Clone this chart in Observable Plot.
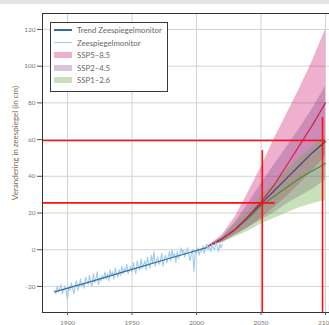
<!DOCTYPE html>
<html><head><meta charset="utf-8">
<script src="https://cdn.jsdelivr.net/npm/d3@7"></script>
<script src="https://cdn.jsdelivr.net/npm/@observablehq/plot@0.6"></script>
<style>
body{margin:0;background:#fff;font-family:"Noto Sans",sans-serif;}
#wrap{position:relative;width:329px;height:325px;overflow:hidden;background:#fff;}
#strip{position:absolute;left:0;top:0;width:329px;height:4px;background:#e4e4e4;}
#legend{position:absolute;left:50px;top:22px;width:118px;height:70px;border:1px solid #3a3a3a;background:#fff;box-sizing:border-box;padding-top:1px;}
.row{display:flex;align-items:center;height:12.5px;font-family:Lato,sans-serif;font-size:7.8px;color:#666;white-space:nowrap;}
.sw{width:18px;margin-left:3px;margin-right:5px;box-sizing:border-box;flex:none;}
</style></head>
<body>
<div id="wrap"><div id="strip"></div></div>
<script>
// ---- data ----
const xTicks = [1900, 1950, 2000, 2050, 2100];
const yTicks = [-20, 0, 20, 40, 60, 80, 100, 120];
const xMin = 1880.6, xMax = 2103.1;
const yMin = -34.2, yMax = 128.7;

const monitorStart = 1890;
const monitorValues = [
  -22, -24, -20, -23, -21, -19, -24, -22, -20, -23,
  -27, -20, -22, -18, -21, -24, -19, -17, -22, -20,
  -16, -20, -18, -21, -15, -17, -19, -14, -18, -20,
  -13, -18, -16, -12, -19, -15, -17, -14, -16, -12,
  -16, -13, -17, -11, -14, -12, -16, -10, -13, -15,
  -11, -14, -9, -13, -10, -12, -8, -13, -11, -9,
  -12, -7, -10, -13, -6, -9, -11, -5, -10, -8,
  -6, -11, -4, -8, -10, -3, -7, -1, -9, -6,
  -4, -8, -6, -2, -9, -5, -3, -7, -4, -1,
  -6, 0, -4, -2, -7, -1, -5, -3, 1, -2,
  0, -4, -1, 1, -3, -6, -2, 0, -12, -1,
  -2, 1, -3, 0, -1, 2, -2, 1, 3, 0,
  2, -1, 3, 1, 0, 4, 2, -1, 3, 1,
  3
];
const trendYears = [1890, 1920, 1950, 1980, 2007];
const trendValues = [-23, -17, -10.7, -4.5, 1];

const projYears   = [2007, 2020, 2030, 2040, 2050, 2060, 2070, 2080, 2090, 2100];
const ssp585Med   = [1, 6, 11, 18, 26, 35, 46, 57, 68, 80];
const ssp585Low   = [1, 4, 8, 12, 17, 23, 29, 36, 43, 51];
const ssp585High  = [1, 8, 18, 31, 45, 60, 74, 88, 103, 120];
const ssp245Med   = [1, 6, 11, 18, 25, 32, 39, 46, 53, 59];
const ssp245Low   = [1, 4, 8, 12, 16, 20, 25, 29, 33, 38];
const ssp245High  = [1, 7, 15, 25, 36, 46, 56, 66, 77, 89];
const ssp126Med   = [1, 6, 11, 17, 24, 29, 34, 39, 43, 47];
const ssp126Low   = [1, 4, 7, 10, 14, 17, 20, 23, 25, 27];
const ssp126High  = [1, 7, 14, 21, 29, 36, 43, 50, 56, 62];

const redVertYears = [2051, 2097.7];
const redVertTops  = [54, 72];
const redHorizValues = [59.5, 25.5];
const redHorizEnds   = [2100, 2061];

const legendLabels = ["Trend Zeespiegelmonitor", "Zeespiegelmonitor", "SSP5\u20138.5", "SSP2\u20134.5", "SSP1\u20132.6"];
const yLabel = "Verandering in zeespiegel (in cm)";

// ---- tables ----
const monitor = monitorValues.map((v, i) => ({year: monitorStart + i, v}));
const trend = trendYears.map((y, i) => ({year: y, v: trendValues[i]}));
const mk = (med, lo, hi) => projYears.map((y, i) => ({year: y, med: med[i], lo: lo[i], hi: hi[i]}));
const p585 = mk(ssp585Med, ssp585Low, ssp585High);
const p245 = mk(ssp245Med, ssp245Low, ssp245High);
const p126 = mk(ssp126Med, ssp126Low, ssp126High);
const vlines = redVertYears.map((x, i) => ({x, y1: yMin, y2: redVertTops[i]}));
const hlines = redHorizValues.map((y, i) => ({y, x1: xMin, x2: redHorizEnds[i]}));

const C = {
  pinkFill: "#d2307f", purpleFill: "#7c3a86", greenFill: "#66a845",
  pinkLine: "#d81e4e", purpleLine: "#55348a", greenLine: "#4d8d37",
  trend: "#3a6d9c", monitor: "#9fcbec"
};

const chart = Plot.plot({
  width: 329, height: 325,
  marginLeft: 42, marginTop: 13, marginBottom: 13, marginRight: 0,
  x: {domain: [xMin, xMax]},
  y: {domain: [yMin, yMax]},
  style: {fontFamily: "Lato", fontSize: "6.5px", color: "#777", background: "transparent", overflow: "visible"},
  marks: [
    Plot.gridX(xTicks, {stroke: "#d2d2d2", strokeOpacity: 1}),
    Plot.gridY(yTicks, {stroke: "#d2d2d2", strokeOpacity: 1}),
    Plot.areaY(p585, {x: "year", y1: "lo", y2: "hi", fill: C.pinkFill, fillOpacity: 0.38}),
    Plot.areaY(p245, {x: "year", y1: "lo", y2: "hi", fill: C.purpleFill, fillOpacity: 0.3}),
    Plot.areaY(p126, {x: "year", y1: "lo", y2: "hi", fill: C.greenFill, fillOpacity: 0.36}),
    Plot.line(p126, {x: "year", y: "med", stroke: C.greenLine, strokeWidth: 1.2}),
    Plot.line(p245, {x: "year", y: "med", stroke: C.purpleLine, strokeWidth: 1.2}),
    Plot.line(p585, {x: "year", y: "med", stroke: C.pinkLine, strokeWidth: 1.2}),
    Plot.line(monitor, {x: "year", y: "v", stroke: C.monitor, strokeWidth: 1.1}),
    Plot.line(trend, {x: "year", y: "v", stroke: C.trend, strokeWidth: 1.2}),
    Plot.ruleX(vlines, {x: "x", y1: "y1", y2: "y2", stroke: "#ff1010", strokeWidth: 1.6}),
    Plot.ruleY(hlines, {y: "y", x1: "x1", x2: "x2", stroke: "#ff1010", strokeWidth: 1.6}),
    Plot.ruleX([xMin], {stroke: "#333", strokeWidth: 1}),
    Plot.ruleY([yMin, yMax], {stroke: "#333", strokeWidth: 1}),
    Plot.axisY(yTicks, {tickSize: 5, tickPadding: 2, label: null, stroke: "#555", fill: "#777", tickFormat: d => String(d)}),
    Plot.axisX(xTicks, {tickSize: 3, tickPadding: 5, label: null, stroke: "#555", fill: "#777", tickFormat: d => String(d)})
  ]
});

d3.select(chart).append("text")
  .attr("transform", "translate(16,143) rotate(-90)")
  .attr("text-anchor", "middle")
  .attr("dominant-baseline", "middle")
  .attr("font-family", "Lato")
  .attr("font-size", "8px")
  .attr("fill", "#7d6a52")
  .text(yLabel);

const wrap = document.getElementById("wrap");
wrap.insertBefore(chart, wrap.firstChild);
chart.style.position = "absolute";
chart.style.left = "0px";
chart.style.top = "0px";

// legend
const swatches = [
  {type: "line", color: C.trend, h: 1.6},
  {type: "line", color: C.monitor, h: 1.2},
  {type: "box", color: C.pinkFill, op: 0.38},
  {type: "box", color: C.purpleFill, op: 0.3},
  {type: "box", color: C.greenFill, op: 0.36}
];
const leg = document.createElement("div");
leg.id = "legend";
legendLabels.forEach((lab, i) => {
  const r = document.createElement("div"); r.className = "row";
  const s = document.createElement("div"); s.className = "sw";
  const sw = swatches[i];
  if (sw.type === "line") { s.style.height = sw.h + "px"; s.style.background = sw.color; }
  else { s.style.height = "6px"; s.style.background = sw.color; s.style.opacity = sw.op; }
  const t = document.createElement("span"); t.textContent = lab;
  r.appendChild(s); r.appendChild(t); leg.appendChild(r);
});
wrap.appendChild(leg);
</script>
</body></html>
